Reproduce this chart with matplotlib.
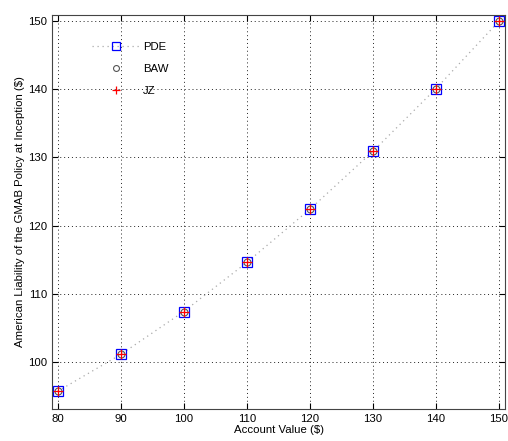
import matplotlib
matplotlib.use("Agg")
import matplotlib.pyplot as plt

account_value = [80, 90, 100, 110, 120, 130, 140, 150]
pde = [95.7, 101.1, 107.4, 114.6, 122.4, 130.9, 140.1, 150.0]
baw = [95.7, 101.1, 107.4, 114.6, 122.4, 130.9, 140.1, 150.0]
jz = [95.7, 101.1, 107.4, 114.6, 122.4, 130.9, 140.1, 150.0]

plt.rcParams['font.family'] = ['Liberation Sans', 'DejaVu Sans']
plt.rcParams['font.size'] = 8.2

fig = plt.figure(figsize=(5.08, 4.41), dpi=100)
ax = fig.add_axes([52/508, 1 - 409/441, (505-52)/508, (409-15)/441])

ax.plot(account_value, pde, linestyle=(0, (1, 3)), color='#aaaaaa', linewidth=0.9,
        marker='s', markersize=7, markerfacecolor='none', markeredgecolor='blue',
        markeredgewidth=0.9, label='PDE')
ax.plot(account_value, baw, linestyle='none', marker='o', markersize=5,
        markerfacecolor='none', markeredgecolor='#555555', markeredgewidth=0.8, label='BAW')
ax.plot(account_value, jz, linestyle='none', marker='+', markersize=7,
        color='red', markeredgewidth=0.9, label='JZ')

ax.set_xlim(79.1, 150.95)
ax.set_ylim(93.1, 150.9)
ax.set_xticks(account_value)
ax.set_yticks([100, 110, 120, 130, 140, 150])
ax.grid(True, linestyle=(0, (1, 3)), color='#222222', linewidth=0.7)
ax.tick_params(direction='in', length=4, top=True, right=True)
for s in ax.spines.values():
    s.set_color('#444444')

ax.set_xlabel('Account Value ($)', labelpad=1)
ax.set_ylabel('American Liability of the GMAB Policy at Inception ($)', labelpad=2)

ax.legend(loc='upper left', frameon=False, bbox_to_anchor=(0.065, 0.957),
          handlelength=4.2, handletextpad=0.3, labelspacing=1.05,
          markerscale=0.85)

fig.savefig('out.png', dpi=100)
